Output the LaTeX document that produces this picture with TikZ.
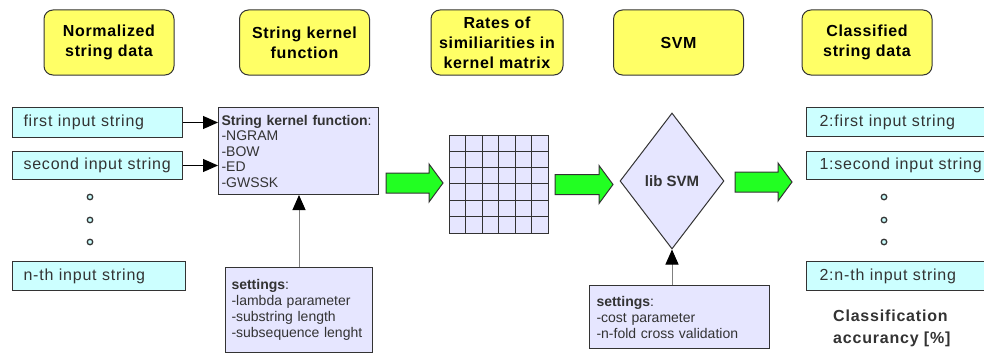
\documentclass[tikz,border=0pt]{standalone}
\usepackage{fontspec}
\setmainfont{Liberation Sans}
\newfontfamily\spaced[LetterSpace=4]{Liberation Sans}
\newfontfamily\spacedb[LetterSpace=5]{Liberation Sans}
\usetikzlibrary{arrows.meta,shapes.geometric}
\definecolor{ybox}{RGB}{255,255,102}
\definecolor{cbox}{RGB}{204,255,255}
\definecolor{lbox}{RGB}{230,230,255}
\definecolor{garrow}{RGB}{34,255,34}
\definecolor{edge}{RGB}{51,51,51}
\newcommand\garr[3]{\filldraw[fill=garrow,draw=edge,line width=1pt] (#1,#3-10) -- (#2-14,#3-10) -- (#2-14,#3-19) -- (#2,#3) -- (#2-14,#3+19) -- (#2-14,#3+10) -- (#1,#3+10) -- cycle;}
\begin{document}
\begin{tikzpicture}[x=1pt,y=-1pt,
 titlebox/.style={draw=edge,fill=ybox,rounded corners=9pt,minimum width=130pt,minimum height=65pt,align=center,line width=1pt,font=\fontsize{16}{20}\selectfont\spaced\bfseries},
 strbox/.style={draw=edge,fill=cbox,line width=1pt,anchor=north west,text width=148pt,inner xsep=11pt,inner ysep=0pt,align=left,font=\fontsize{16}{19}\selectfont\spacedb,text=edge},
 lavbox/.style={draw=edge,fill=lbox,line width=1pt,anchor=north west,align=left,text=edge},
 dotn/.style={circle,draw=edge,fill=cbox,inner sep=0pt,minimum size=5.5pt,line width=1.3pt},
 blackarr/.style={line width=1pt,-{Triangle[length=15pt,width=13pt]}},
 grayarr/.style={line width=1pt,draw=gray,-{Triangle[length=15pt,width=13pt,color=black]}}
]
\useasboundingbox (0,0) rectangle (984,353);
\clip (0,0) rectangle (984,353);
\fill[white] (0,0) rectangle (984,353);

% title boxes
\node[titlebox] (t1) at (109,42.5) {Normalized\\string data};
\node[titlebox] (t2) at (304.5,42.5) {String kernel\\function};
\node[titlebox,minimum width=132pt] (t3) at (497,42.5) {Rates of\\similiarities in\\kernel matrix};
\node[titlebox] (t4) at (678.5,42.5) {SVM};
\node[titlebox] (t5) at (867,42.5) {Classified\\string data};

% input strings
\node[strbox,minimum height=30pt] (in1) at (12,107) {first input string};
\node[strbox,minimum height=28pt] (in2) at (12,151) {second input string};
\node[strbox,minimum height=29pt,text width=151pt] (in3) at (12,261) {n-th input string};
\node[dotn] (d1) at (90,197) {};
\node[dotn] (d2) at (90,220) {};
\node[dotn] (d3) at (90,242) {};

% kernel box
\node[lavbox,minimum width=160pt,minimum height=87pt,text width=154pt,inner xsep=3pt,font=\fontsize{14}{15.5}\selectfont] (kern) at (218,107)
 {\textbf{String kernel function}:\\-NGRAM\\-BOW\\-ED\\-GWSSK};
\draw[blackarr] (in1.east) -- (in1.east -| kern.west);
\draw[blackarr] (in2.east) -- (in2.east -| kern.west);

% settings 1
\node[lavbox,minimum width=147pt,text width=135pt,inner xsep=6pt,inner ysep=12pt,font=\fontsize{14}{16}\selectfont] (set1) at (225,267)
 {\textbf{settings}:\\-lambda parameter\\-substring length\\-subsequence lenght};
\draw[grayarr] (set1.north) -- (set1.north |- kern.south);

% matrix
\node[draw=edge,fill=lbox,line width=1pt,minimum width=99pt,minimum height=98pt,anchor=north west,inner sep=0pt] (mat) at (449,135) {};
\foreach \i in {1,...,5}{
  \draw[line width=1pt,edge] (449+\i*16.5,135) -- (449+\i*16.5,233);
  \draw[line width=1pt,edge] (449,135+\i*16.33) -- (548,135+\i*16.33);
}

% green arrows
\garr{386}{443}{183}
\garr{555}{613}{184.5}
\garr{735}{792}{182}

% SVM diamond
\node[diamond,draw=edge,fill=lbox,line width=1pt,minimum width=104pt,minimum height=136pt,inner sep=0pt,font=\fontsize{15}{18}\selectfont\bfseries,text=edge] (svm) at (672,181) {lib SVM};

% settings 2
\node[lavbox,minimum width=180pt,minimum height=63pt,text width=166pt,inner xsep=7pt,font=\fontsize{14}{16}\selectfont] (set2) at (589,285)
 {\textbf{settings}:\\-cost parameter\\-n-fold cross validation};
\draw[grayarr] (set2.north -| svm.south) -- (svm.south);

% output strings (cut off by the right edge)
\node[strbox,minimum height=29pt,text width=200pt,inner xsep=13pt] (o1) at (806,107) {2:first input string};
\node[strbox,minimum height=28pt,text width=200pt,inner xsep=13pt] (o2) at (806,151) {1:second input string};
\node[strbox,minimum height=29pt,text width=200pt,inner xsep=13pt] (o3) at (806,261) {2:n-th input string};
\node[dotn] (e1) at (884,197) {};
\node[dotn] (e2) at (884,220) {};
\node[dotn] (e3) at (884,242) {};

\node[anchor=north west,align=left,inner sep=0pt,font=\fontsize{16}{22}\selectfont\spacedb\bfseries,text=edge] (acc) at (833,310) {Classification\\accurancy [\%]};
\end{tikzpicture}
\end{document}
